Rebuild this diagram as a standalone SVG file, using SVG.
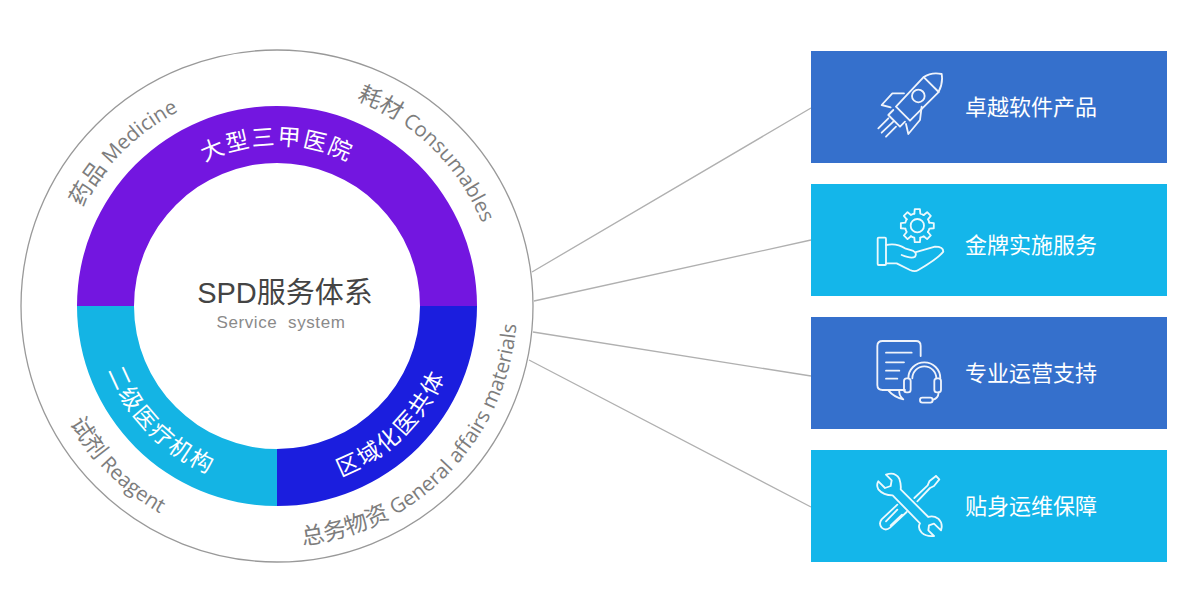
<svg xmlns="http://www.w3.org/2000/svg" width="1182" height="592" viewBox="0 0 1182 592">
<style>
text{font-family:"Open Sans","Noto Sans CJK SC",sans-serif}
.out{font-size:20.500px;fill:#7d7d7d}
.cjk{font-size:23px}
.seg{font-size:23px;fill:#fff;letter-spacing:2px}
.box{font-size:22px;fill:#fff}
.ic{fill:none;stroke:#fff;stroke-width:5.500;stroke-linecap:round;stroke-linejoin:round;opacity:.92}
.ln{stroke:#b0b0b0;stroke-width:1.3;fill:none}
</style>
<defs>
<path id="pOutTL" d="M59 306A218 218 0 0 1 277 88"/>
<path id="pOutTR" d="M277 85A221 221 0 0 1 498 306"/>
<path id="pOutBL" d="M39 306A238 238 0 0 0 277 544"/>
<path id="pOutBR" d="M277 546A240 240 0 0 0 517 306"/>
<path id="pTop" d="M116 306A161 161 0 0 1 438 306"/>
<path id="pBL" d="M96 306A181 181 0 0 0 277 487"/>
<path id="pBR" d="M277 488A182 182 0 0 0 459 306"/>
<g id="tooth"><path d="M-9-36L-7.800-49.400H7.800L9-36A37 37 0 0 1 19.100-31.700"/></g>
</defs>
<rect width="1182" height="592" fill="#fff"/>
<g id="connectors">
<path class="ln" d="M532 272L811 108M534 301L811 240M533 332L811 376M529 360L811 507"/>
</g>
<g id="wheel">
<circle cx="277" cy="306" r="256" fill="none" stroke="#999" stroke-width="1.300"/>
<path d="M77 306A200 200 0 0 1 477 306H420A143 143 0 0 0 134 306Z" fill="#7316e0"/>
<path d="M77 306A200 200 0 0 0 277 506V449A143 143 0 0 1 134 306Z" fill="#14b4e4"/>
<path d="M477 306A200 200 0 0 1 277 506V449A143 143 0 0 0 420 306Z" fill="#1b1ede"/>
<text class="seg"><textPath href="#pTop" startOffset="50%" text-anchor="middle">大型三甲医院</textPath></text>
<text class="seg"><textPath href="#pBL" startOffset="49.500%" text-anchor="middle">二级医疗机构</textPath></text>
<text class="seg"><textPath href="#pBR" startOffset="49%" text-anchor="middle">区域化医共体</textPath></text>
<text class="out"><textPath href="#pOutTL" startOffset="50%" text-anchor="middle"><tspan class="cjk">药品</tspan> Medicine</textPath></text>
<text class="out"><textPath href="#pOutTR" startOffset="49.500%" text-anchor="middle"><tspan class="cjk">耗材</tspan> Consumables</textPath></text>
<text class="out"><textPath href="#pOutBL" startOffset="50%" text-anchor="middle"><tspan class="cjk">试剂</tspan> Reagent</textPath></text>
<text class="out"><textPath href="#pOutBR" startOffset="51%" text-anchor="middle"><tspan class="cjk">总务物资</tspan> General affairs materials</textPath></text>
<text x="285" y="303" text-anchor="middle" style="font-family:'Liberation Sans','Noto Sans CJK SC',sans-serif;font-size:29px;fill:#444">SPD服务体系</text>
<text x="281" y="328" text-anchor="middle" xml:space="preserve" style="font-family:'Liberation Sans',sans-serif;font-size:17px;letter-spacing:.6px;fill:#8a8a8a">Service  system</text>
</g>
<g id="n1">
<rect x="811" y="51" width="356" height="112" fill="#3570cc"/>
<text class="box" x="965" y="115">卓越软件产品</text>
<g class="ic" transform="translate(860 60) scale(.3333)">
<path d="M245 42Q215 35 190 52L108 140L150 182L235 97Q250 70 245 42Z"/>
<path d="M192 52L236 96"/><circle cx="175" cy="108" r="19"/>
<path d="M132 100H97L65 135L92 142"/><path d="M185 140L180 180L145 222L138 192"/>
<path d="M100 150L85 165L120 200L135 185"/>
<path d="M55 205L85 175M65 218L100 185M78 230L108 200"/>
</g>
</g>
<g id="n2">
<rect x="811" y="184" width="356" height="112" fill="#14b6ea"/>
<text class="box" x="965" y="253">金牌实施服务</text>
<g class="ic" transform="translate(860 195) scale(.3333)">
<g transform="translate(172 92)"><circle r="20"/>
<use href="#tooth"/><use href="#tooth" transform="rotate(45)"/><use href="#tooth" transform="rotate(90)"/><use href="#tooth" transform="rotate(135)"/><use href="#tooth" transform="rotate(180)"/><use href="#tooth" transform="rotate(225)"/><use href="#tooth" transform="rotate(270)"/><use href="#tooth" transform="rotate(315)"/></g>
<rect x="53" y="128" width="25" height="82" rx="3"/>
<path d="M78 150C100 145 120 150 135 160L160 168Q172 175 165 185Q155 192 125 180M165 172L225 155Q250 155 250 170Q235 190 175 225Q165 232 150 225L110 205H78"/>
</g>
</g>
<g id="n3">
<rect x="811" y="317" width="356" height="112" fill="#3570cc"/>
<text class="box" x="965" y="381">专业运营支持</text>
<g class="ic" transform="translate(860 330) scale(.3333)">
<path d="M135 180H68Q52 180 52 165V48Q52 33 68 33H168Q182 33 182 48V78"/>
<path d="M85 181Q100 200 130 208Q115 195 118 180"/>
<path d="M78 68H155M78 97H132M78 122H118M78 146H112"/>
<path d="M145 145A48 48 0 0 1 241 145M157 145A36 36 0 0 1 229 145"/>
<rect x="132" y="145" width="20" height="42" rx="8"/><rect x="223" y="145" width="20" height="42" rx="8"/>
<path d="M236 187Q235 205 218 210"/><rect x="180" y="203" width="38" height="15" rx="7"/>
</g>
</g>
<g id="n4">
<rect x="811" y="450" width="356" height="112" fill="#14b6ea"/>
<text class="box" x="965" y="514">贴身运维保障</text>
<g class="ic" transform="translate(860 462) scale(.3333)">
<path d="M78 38Q105 28 118 50Q124 68 122 82L205 165Q220 160 235 170Q250 185 243 205L222 185L207 190L205 205L222 222Q200 225 185 212Q172 198 180 184L98 100Q70 100 55 82Q48 70 55 58L75 78L92 72L95 55Z"/>
<path d="M228 42L238 52L222 72L210 78L172 118M228 42L208 58L203 70L163 108"/>
<path d="M112 128L65 172Q55 185 65 197Q77 208 90 197L140 150M78 178L112 143M92 190L126 158"/>
</g>
</g>
</svg>
